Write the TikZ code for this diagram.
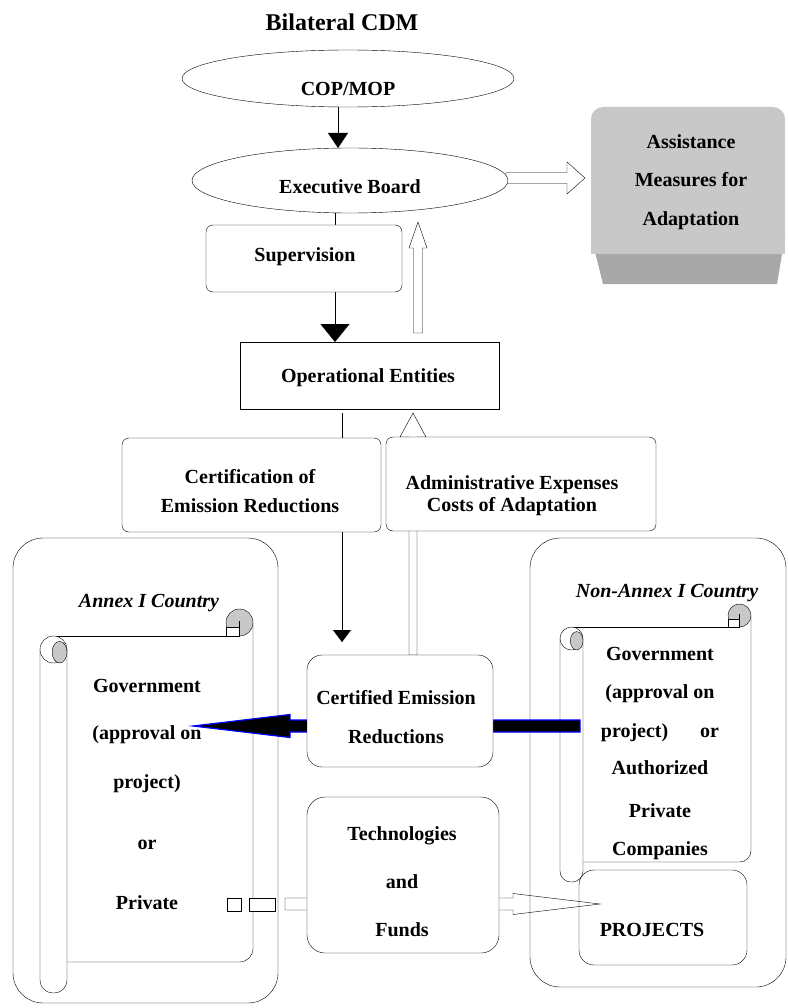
\documentclass[tikz,border=0pt]{standalone}
\usepackage{fontspec}
\setmainfont{Liberation Serif}
\usetikzlibrary{shapes.geometric,arrows.meta,calc}
\definecolor{rollgray}{RGB}{200,200,200}
\definecolor{facegray}{RGB}{200,200,200}
\definecolor{bevelgray}{RGB}{168,168,168}
\pgfdeclarelayer{back}
\pgfdeclarelayer{mid}
\pgfsetlayers{back,mid,main}
% block arrows: #1 options, #2 base, #3 tip, #4 half shaft, #5 half head, #6 head length
\newcommand\blockH[6]{\draw[#1] let \p1=(#2), \p2=(#3), \n1={sign(\x2-\x1)} in
  (\x1,{\y2-#4}) -- ({\x2-\n1*#6},{\y2-#4}) -- ({\x2-\n1*#6},{\y2-#5}) -- (\x2,\y2)
  -- ({\x2-\n1*#6},{\y2+#5}) -- ({\x2-\n1*#6},{\y2+#4}) -- (\x1,{\y2+#4}) -- cycle;}
\newcommand\blockV[6]{\draw[#1] let \p1=(#2), \p2=(#3), \n1={sign(\y2-\y1)} in
  ({\x2-#4},\y1) -- ({\x2-#4},{\y2-\n1*#6}) -- ({\x2-#5},{\y2-\n1*#6}) -- (\x2,\y2)
  -- ({\x2+#5},{\y2-\n1*#6}) -- ({\x2+#4},{\y2-\n1*#6}) -- ({\x2+#4},\y1) -- cycle;}
% scroll: L, tube width, R, top, sheet bottom, tube bottom
\newcommand\scrollshape[6]{%
  \pgfmathsetmacro\sr{#2/2}%
  \pgfmathsetmacro\srr{0.95*#2/2}%
  \fill[white] (#1+\sr,#4) -- (#3,#4) -- (#3,#5) -- (#1+#2,#5) -- (#1+#2,#4) -- cycle;
  \draw (#1+\sr,#4) -- (#3-\sr,#4);
  \draw[rounded corners=\sr pt] (#3,#4-\sr) -- (#3,#5) -- (#1+#2,#5);
  \filldraw[fill=rollgray] (#3-\sr,#4-\sr) circle[radius=\sr];
  \filldraw[fill=white] (#3-2*\sr,#4-0.65*\sr) rectangle (#3-\sr,#4);
  \draw (#3-\sr,#4-1.1*\sr) -- (#3-\sr,#4);
  \filldraw[fill=white, rounded corners=\srr pt] (#1,#4+\sr) -- (#1,#6) -- (#1+#2,#6) -- (#1+#2,#4+\sr);
  \filldraw[fill=white] (#1+\sr,#4+\sr) circle[radius=\sr];
  \filldraw[fill=rollgray] (#1+#2-0.55*\sr,#4+1.2*\sr) ellipse[x radius=0.55*\sr, y radius=0.8*\sr];
}
\begin{document}
\begin{tikzpicture}[x=1pt,y=-1pt, line width=1.8pt,
  every node/.style={inner sep=0pt, outer sep=0pt},
  lbl/.style={font=\fontsize{20}{24}\selectfont\bfseries, align=center},
  ilbl/.style={font=\fontsize{20}{24}\selectfont\bfseries\itshape},
  ell/.style={draw, ellipse, fill=white},
  sbox/.style={draw, fill=white, rounded corners=7pt},
  pbox/.style={draw, fill=white},
  country/.style={draw, fill=white, rounded corners=30pt},
  hollow/.style={draw, fill=white},
  openarr/.style={draw},
  solidarr/.style={draw=blue, fill=black, line width=1.2pt},
  tipsmall/.style={-{Triangle[width=18pt,length=12pt]}},
  tipmid/.style={-{Triangle[width=20pt,length=15pt]}},
  tipbig/.style={-{Triangle[width=29pt,length=18pt]}},
]
\useasboundingbox (0,0) rectangle (787,1008);

% ---------- back layer: countries and scrolls ----------
\begin{pgfonlayer}{back}
\fill[white] (0,0) rectangle (787,1008);
\node[country, minimum width=265pt, minimum height=465pt] (annex) at (145.5,770.5) {};
\node[country, minimum width=256pt, minimum height=449pt] (nonannex) at (658,762.5) {};
\node[draw, fill=white, rounded corners=15pt, minimum width=168pt, minimum height=95pt] (proj) at (663,917.5) {};
\scrollshape{40}{27}{253}{636}{962}{993}
\scrollshape{560}{23}{751}{627}{862}{882}
\end{pgfonlayer}

% ---------- main nodes ----------
\node[lbl, font=\fontsize{24}{28}\selectfont\bfseries] (title) at (342,22) {Bilateral CDM};
\node[ell, minimum width=332pt, minimum height=57pt] (cop) at (348,78.5) {};
\node[lbl] (coptext) at (348,89) {COP/MOP};
\node[ell, minimum width=316pt, minimum height=65pt] (exec) at (350,180.5) {};
\node[lbl] (exectext) at (350,187) {Executive Board};

% assistance box with bevel
\fill[bevelgray] (591,236) -- (603,284) -- (777,284) -- (785,236) -- cycle;
\node[fill=facegray, rounded corners=12pt, minimum width=194pt, minimum height=147pt] (assist) at (688,180.5) {};
\fill[facegray] (591,200) rectangle (785,254);
\node[lbl] (assisttext) at (691,182) {Assistance\\[14.5pt]Measures for\\[14.5pt]Adaptation};

\node[sbox, minimum width=196pt, minimum height=67pt] (sup) at (304,258.5) {};
\node[lbl] (suptext) at (305,257) {Supervision};
\node[pbox, minimum width=259pt, minimum height=67pt] (ops) at (369.5,375.5) {};
\node[lbl] (opstext) at (368,378) {Operational Entities};
\node[sbox, minimum width=259pt, minimum height=94pt] (cert) at (251.5,485) {};
\node[lbl] (certtext) at (250,491) {Certification of\\[5pt]Emission Reductions};
\node[sbox, minimum width=270pt, minimum height=94pt] (admin) at (521,484) {};
\node[lbl] (admintext) at (512,495.5) {Administrative Expenses\\[-2pt]Costs of Adaptation};
\node[draw, fill=white, rounded corners=15pt, minimum width=186pt, minimum height=112pt] (cer) at (400,711) {};
\node[lbl] (certext) at (396,717.5) {Certified Emission\\[15pt]Reductions};
\node[draw, fill=white, rounded corners=18pt, minimum width=192pt, minimum height=156pt] (tech) at (403,875) {};
\node[lbl] (techtext) at (402,882) {Technologies\\[24pt]and\\[24pt]Funds};
\node[lbl] (projtext) at (652,930) {PROJECTS};

\node[ilbl] (annexlbl) at (149,603) {Annex I Country};
\node[ilbl] (nalbl) at (667,593) {Non-Annex I Country};
\node[lbl] (annextext) at (147,794) {Government\\[23pt](approval on\\[25pt]project)\\[37pt]or\\[36pt]Private};
\node[lbl] (natext) at (660,753) {Government\\[14pt](approval on\\[15pt]project)\hspace{1.6em}or\\[13pt]Authorized\\[19pt]Private\\[14pt]Companies};

% ---------- connectors ----------
\begin{pgfonlayer}{mid}
\coordinate (c1) at ([xshift=-10pt]cop.south);
\draw[tipmid] (c1) -- (c1 |- exec.north);
\coordinate (c2) at ([xshift=-15pt]exec.south);
\draw[tipbig] (c2) -- (c2 |- ops.north);
\coordinate (h1b) at ([xshift=48.5pt,yshift=9pt]ops.north);
\coordinate (h1t) at ([xshift=68pt,yshift=-9pt]exec.south);
\blockV{hollow}{h1b}{h1t}{4.5}{9}{26}
\coordinate (l1s) at ([xshift=-27.5pt,yshift=-4pt]ops.south);
\path (l1s |- cer.north) ++(0,-13) coordinate (l1e);
\draw[tipsmall] (l1s) -- (l1e);
\coordinate (h2b) at ([xshift=13pt]cer.north);
\coordinate (h2t) at ([xshift=43.5pt,yshift=-4pt]ops.south);
\blockV{hollow}{h2b}{h2t}{4}{13}{24}
\coordinate (h3b) at ([xshift=-2pt,yshift=2.5pt]exec.east);
\coordinate (h3t) at ([xshift=-6pt,yshift=2.5pt]assist.west);
\blockH{hollow}{h3b}{h3t}{5.5}{16}{18}
\coordinate (gR) at (580,726);
\coordinate (gL) at (193,726);
\blockH{solidarr}{gR}{gL}{6}{11.5}{97}
\draw[fill=white] (227,898) rectangle (241,911);
\draw[fill=white] (249,898) rectangle (275,911);
\coordinate (tb) at (285,904);
\coordinate (tt) at (600,904);
\blockH{openarr}{tb}{tt}{6}{10.5}{87}
\end{pgfonlayer}
\end{tikzpicture}
\end{document}
